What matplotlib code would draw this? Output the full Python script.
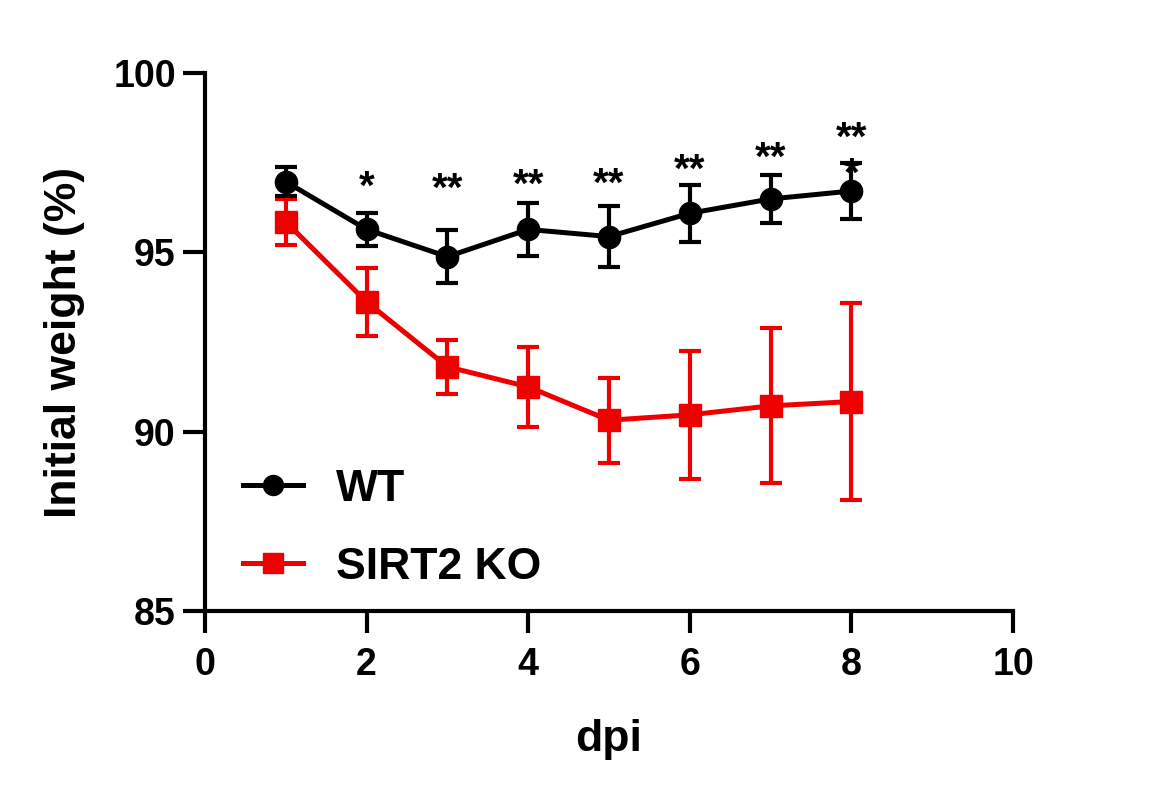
import matplotlib
matplotlib.use('Agg')
import matplotlib.pyplot as plt

plt.rcParams['font.family'] = ['Liberation Sans', 'DejaVu Sans']
plt.rcParams['font.weight'] = 'bold'

# data
dpi = [1, 2, 3, 4, 5, 6, 7, 8]

wt_mean = [96.97, 95.64, 94.88, 95.64, 95.44, 96.09, 96.49, 96.71]
wt_err = [0.40, 0.46, 0.74, 0.74, 0.86, 0.80, 0.68, 0.79]

ko_mean = [95.85, 93.62, 91.81, 91.25, 90.32, 90.47, 90.72, 90.84]
ko_err = [0.65, 0.94, 0.76, 1.12, 1.18, 1.79, 2.16, 2.74]

# significance marks (centre of the asterisks)
sig_x = [2, 3, 4, 5, 6, 7, 8]
sig_labels = ['*', '**', '**', '**', '**', '**', '**']
sig_y = [97.02, 96.97, 97.10, 97.13, 97.50, 97.83, 98.41]

red = '#ee0000'

fig = plt.figure(figsize=(11.6, 7.87), dpi=100)
ax = fig.add_axes([0.1767, 0.2236, 0.6966, 0.6836])

# stray asterisk half hidden behind the last WT cap
ax.annotate('*', (8, 97.4), xytext=(0, -6), textcoords='offset points',
            ha='center', va='center', fontsize=29, color='black', zorder=1)

ax.errorbar(dpi, wt_mean, yerr=wt_err, color='black', marker='o',
            markersize=16, linewidth=3.6, elinewidth=3, capsize=8,
            capthick=3, label='WT', zorder=4)
ax.errorbar(dpi, ko_mean, yerr=ko_err, color=red, marker='s',
            markersize=16, linewidth=3.6, elinewidth=3, capsize=8,
            capthick=3, label='SIRT2 KO', zorder=3)

for x, y, s in zip(sig_x, sig_y, sig_labels):
    ax.annotate(s, (x, y), xytext=(0, -6), textcoords='offset points',
                ha='center', va='center', fontsize=29, fontweight='bold',
                color='black', zorder=5)

ax.set_xlim(0, 10)
ax.set_ylim(85, 100)
ax.set_xticks([0, 2, 4, 6, 8, 10])
ax.set_yticks([85, 90, 95, 100])

for side in ['top', 'right']:
    ax.spines[side].set_visible(False)
for side in ['left', 'bottom']:
    ax.spines[side].set_linewidth(3)

ax.tick_params(axis='both', direction='out', length=16, width=3,
               labelsize=27)
ax.tick_params(axis='x', pad=10)
ax.tick_params(axis='y', pad=5)
for lab in ax.get_xticklabels() + ax.get_yticklabels():
    lab.set_fontweight('bold')

ax.set_xlabel('dpi', fontsize=32, fontweight='bold', labelpad=26)
ax.set_ylabel('Initial weight (%)', fontsize=32, fontweight='bold',
              labelpad=20)

# legend with line + marker handles, no error bars
handles, labels = ax.get_legend_handles_labels()
handles = [h[0] for h in handles]
leg = ax.legend(handles, labels, loc='center left',
                bbox_to_anchor=(0.047, 0.154), frameon=False,
                borderpad=0, borderaxespad=0,
                prop={'size': 32, 'weight': 'bold'}, handlelength=1.35,
                handletextpad=0.75, labelspacing=0.83, markerscale=0.9)

fig.savefig('out.png', dpi=100)
